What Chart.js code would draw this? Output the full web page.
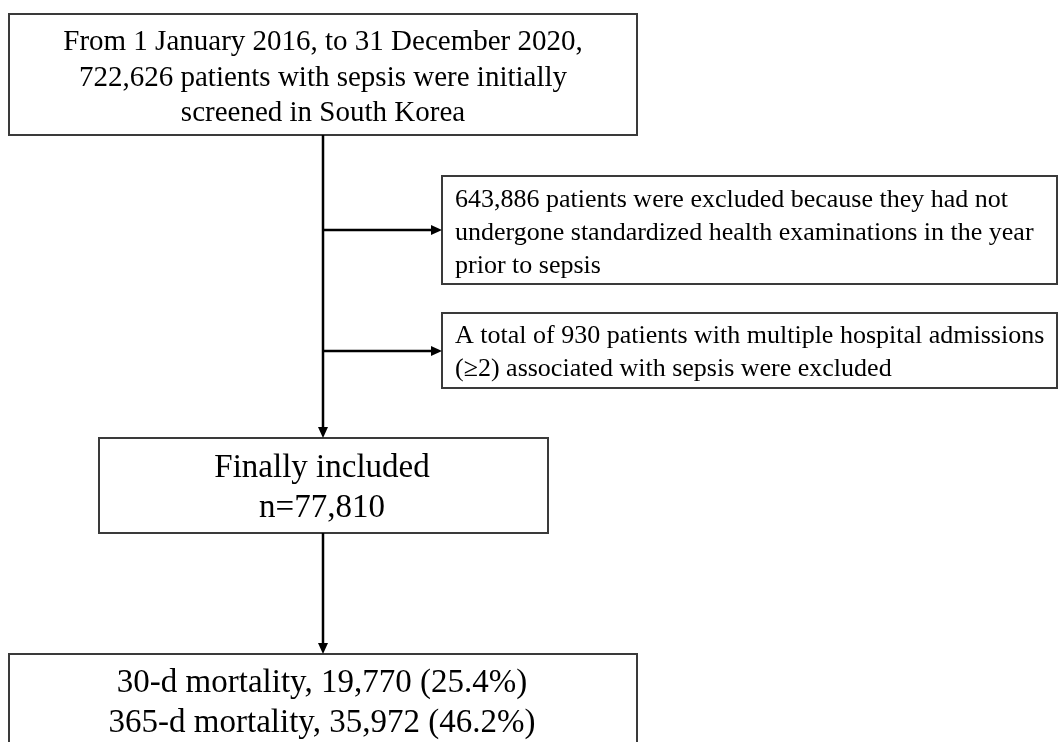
<!DOCTYPE html>
<html>
<head>
<meta charset="utf-8">
<title>Sepsis cohort flow</title>
<script src="https://cdn.jsdelivr.net/npm/chart.js@4.4.1/dist/chart.umd.min.js"></script>
<style>
  html, body { margin: 0; padding: 0; background: #ffffff; }
  #wrap { width: 1059px; height: 742px; position: relative; }
</style>
</head>
<body>
<div id="wrap"><canvas id="flow"></canvas></div>
<script>
// -------------------------
// DATA
// -------------------------
const studyStart = "1 January 2016";
const studyEnd = "31 December 2020";
const screened = 722626;
const excludedNoExam = 643886;
const excludedMultiAdmit = 930;
const included = 77810;
const deaths30 = 19770;
const pct30 = 25.4;
const deaths365 = 35972;
const pct365 = 46.2;

const fmt = n => n.toLocaleString("en-US");

const screenText = [
  "From " + studyStart + ", to " + studyEnd + ",",
  fmt(screened) + " patients with sepsis were initially",
  "screened in South Korea"
];
const exclude1Text = [
  fmt(excludedNoExam) + " patients were excluded because they had not",
  "undergone standardized health examinations in the year",
  "prior to sepsis"
];
const exclude2Text = [
  "A total of " + fmt(excludedMultiAdmit) + " patients with multiple hospital admissions",
  "(\u22652) associated with sepsis were excluded"
];
const includedText = ["Finally included", "n=" + fmt(included)];
const outcomeText = [
  "30-d mortality, " + fmt(deaths30) + " (" + pct30.toFixed(1) + "%)",
  "365-d mortality, " + fmt(deaths365) + " (" + pct365.toFixed(1) + "%)"
];

// -------------------------
// LAYOUT (diagram units = x/y scale values)
// -------------------------
const boxes = [
  { x0: 9, x1: 637, y0: 14, y1: 135, lines: screenText, size: 29, align: "center", tx: 323, base: [50, 85.5, 121] },
  { x0: 442, x1: 1057, y0: 176, y1: 284, lines: exclude1Text, size: 26, align: "left", tx: 455, base: [207, 240, 273] },
  { x0: 442, x1: 1057, y0: 313, y1: 388, lines: exclude2Text, size: 26, align: "left", tx: 455, base: [343, 376] },
  { x0: 99, x1: 548, y0: 438, y1: 533, lines: includedText, size: 33, align: "center", tx: 322, base: [477, 517] },
  { x0: 9, x1: 637, y0: 654, y1: 770, lines: outcomeText, size: 33, align: "center", tx: 322, base: [692, 732] }
];

const links = [
  { pts: [[323, 135], [323, 438]], arrow: true },
  { pts: [[323, 230], [442, 230]], arrow: true },
  { pts: [[323, 351], [442, 351]], arrow: true },
  { pts: [[323, 533], [323, 654]], arrow: true }
];

// -------------------------
// FLOW DRAWING PLUGIN
// -------------------------
const flowPlugin = {
  id: "flow",
  afterDraw(chart) {
    const ctx = chart.ctx;
    const sx = chart.scales.x;
    const sy = chart.scales.y;
    const px = v => sx.getPixelForValue(v);
    const py = v => sy.getPixelForValue(v);

    ctx.save();

    // boxes
    boxes.forEach(b => {
      ctx.strokeStyle = "#3a3a3a";
      ctx.lineWidth = 2;
      ctx.strokeRect(px(b.x0), py(b.y0), px(b.x1) - px(b.x0), py(b.y1) - py(b.y0));

      ctx.fillStyle = "#000000";
      ctx.font = b.size + "px 'Liberation Serif', 'Times New Roman', serif";
      ctx.textAlign = b.align;
      ctx.textBaseline = "alphabetic";
      b.lines.forEach((t, i) => ctx.fillText(t, px(b.tx), py(b.base[i])));
    });

    // connectors
    links.forEach(l => {
      const a = l.pts[0];
      const e = l.pts[l.pts.length - 1];
      const ax = px(a[0]), ay = py(a[1]);
      const ex = px(e[0]), ey = py(e[1]);
      const len = Math.hypot(ex - ax, ey - ay);
      const ux = (ex - ax) / len, uy = (ey - ay) / len;
      const head = 11, half = 5;

      ctx.strokeStyle = "#000000";
      ctx.lineWidth = 2.5;
      ctx.beginPath();
      ctx.moveTo(ax, ay);
      ctx.lineTo(ex - ux * (head - 1), ey - uy * (head - 1));
      ctx.stroke();

      if (l.arrow) {
        ctx.fillStyle = "#000000";
        ctx.beginPath();
        ctx.moveTo(ex, ey);
        ctx.lineTo(ex - ux * head - uy * half, ey - uy * head + ux * half);
        ctx.lineTo(ex - ux * head + uy * half, ey - uy * head - ux * half);
        ctx.closePath();
        ctx.fill();
      }
    });

    ctx.restore();
  }
};

// -------------------------
// CHART
// -------------------------
new Chart(document.getElementById("flow"), {
  type: "scatter",
  data: { datasets: [{ data: [], pointRadius: 0 }] },
  options: {
    responsive: true,
    maintainAspectRatio: false,
    animation: false,
    layout: { padding: 0 },
    plugins: { legend: { display: false }, tooltip: { enabled: false } },
    scales: {
      x: { type: "linear", min: 0, max: 1059, display: false },
      y: { type: "linear", min: 0, max: 742, reverse: true, display: false }
    }
  },
  plugins: [flowPlugin]
});
</script>
</body>
</html>
